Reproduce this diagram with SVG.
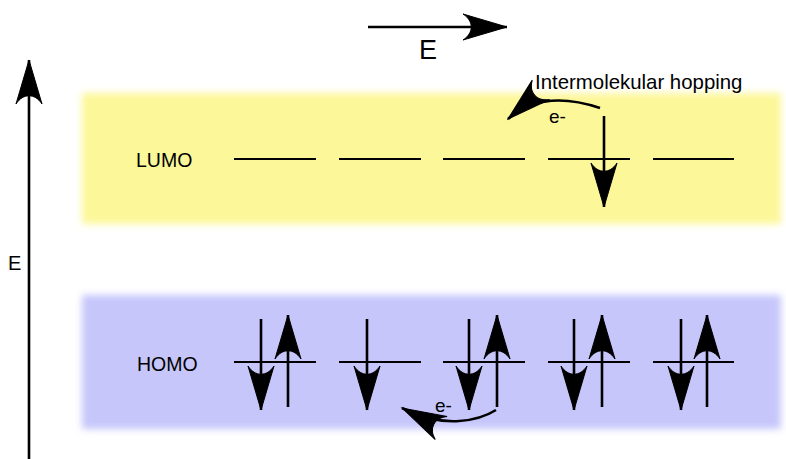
<svg xmlns="http://www.w3.org/2000/svg" width="786" height="459" viewBox="0 0 786 459">
  <style>
    .lbl { font-family: "Liberation Sans", Arial, sans-serif; fill: #000; }
    .lvl { stroke: #000; stroke-width: 2.2; fill: none; }
    .arr { stroke: #000; stroke-width: 2.6; fill: none; marker-end: url(#head); }
  </style>
  <defs>
    <filter id="soft" x="-5%" y="-20%" width="110%" height="140%">
      <feGaussianBlur stdDeviation="3.5"/>
    </filter>
    <marker id="head" markerUnits="userSpaceOnUse" markerWidth="46" markerHeight="28" refX="44" refY="13" orient="auto" overflow="visible">
      <path d="M44,13 L0,0 C11,7 11,19 0,26 Z" fill="#000" stroke="#000" stroke-width="1" stroke-linejoin="miter"/>
    </marker>
  </defs>

  <rect width="786" height="459" fill="#fff"/>

  <g id="band-lumo">
    <rect x="82" y="93" width="699" height="131" fill="#fcf799" filter="url(#soft)"/>
    <text class="lbl" x="136" y="167" font-size="19.5">LUMO</text>
  </g>
  <g id="band-homo">
    <rect x="82" y="295" width="699" height="134" fill="#c6c6fb" filter="url(#soft)"/>
    <text class="lbl" x="137" y="371" font-size="19.5">HOMO</text>
  </g>

  <g id="lumo-levels">
    <line class="lvl" x1="234" y1="159" x2="316" y2="159"/>
    <line class="lvl" x1="339" y1="159" x2="421" y2="159"/>
    <line class="lvl" x1="443" y1="159" x2="525" y2="159"/>
    <line class="lvl" x1="548" y1="159" x2="630" y2="159"/>
    <line class="lvl" x1="653" y1="159" x2="734" y2="159"/>
  </g>

  <g id="homo-mol1">
    <line class="lvl" x1="234" y1="362" x2="316" y2="362"/>
    <line class="arr" x1="261" y1="319" x2="261" y2="410"/>
    <line class="arr" x1="288" y1="407" x2="288" y2="315"/>
  </g>
  <g id="homo-mol2">
    <line class="lvl" x1="339" y1="362" x2="421" y2="362"/>
    <line class="arr" x1="367" y1="319" x2="367" y2="410"/>
  </g>
  <g id="homo-mol3">
    <line class="lvl" x1="443" y1="362" x2="525" y2="362"/>
    <line class="arr" x1="469" y1="319" x2="469" y2="410"/>
    <line class="arr" x1="497" y1="407" x2="497" y2="315"/>
  </g>
  <g id="homo-mol4">
    <line class="lvl" x1="548" y1="362" x2="630" y2="362"/>
    <line class="arr" x1="574" y1="319" x2="574" y2="410"/>
    <line class="arr" x1="602" y1="407" x2="602" y2="315"/>
  </g>
  <g id="homo-mol5">
    <line class="lvl" x1="653" y1="362" x2="734" y2="362"/>
    <line class="arr" x1="681" y1="319" x2="681" y2="410"/>
    <line class="arr" x1="707" y1="407" x2="707" y2="315"/>
  </g>

  <g id="lumo-electron">
    <line class="arr" x1="604" y1="116" x2="604" y2="207"/>
  </g>

  <g id="connectors">
    <line class="arr" x1="368" y1="27" x2="507" y2="27"/>
    <line class="arr" x1="29" y1="459" x2="29" y2="60"/>
    <path class="arr" d="M600,108 C570,98 535,95 508,119"/>
    <path class="arr" d="M496,410 C480,420 445,430 402,408"/>
  </g>

  <g id="labels">
    <text class="lbl" x="419" y="59" font-size="27">E</text>
    <text class="lbl" x="8" y="270" font-size="20">E</text>
    <text class="lbl" x="535" y="89" font-size="20.4">Intermolekular hopping</text>
    <text class="lbl" x="549" y="123" font-size="19">e-</text>
    <text class="lbl" x="435" y="412" font-size="19">e-</text>
  </g>
</svg>
